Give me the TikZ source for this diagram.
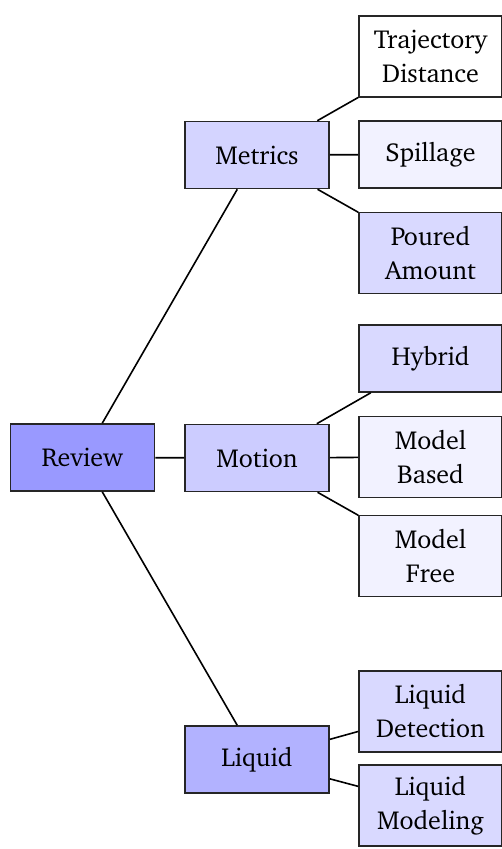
\documentclass[tikz,border=0pt]{standalone}
\usepackage[T1]{fontenc}
\usepackage{charter}
\begin{document}
\begin{tikzpicture}[x=1pt,y=-1pt,
  box/.style={draw=black!85,line width=1.6pt,minimum width=143pt,minimum height=67pt,
    align=center,inner sep=3pt,font=\fontsize{26}{34}\selectfont},
  tall/.style={box,minimum height=81pt},
  link/.style={line width=1.6pt,black}]
\useasboundingbox (0,0) rectangle (502,849);
% root
\node[box,fill=blue!40,minimum width=144pt] (review) at (82.5,457.5) {Review};
% second level
\node[box,fill=blue!17,minimum width=144pt] (metrics) at (257,155) {Metrics};
\node[box,fill=blue!20,minimum width=144pt] (motion) at (257,458) {Motion};
\node[box,fill=blue!30,minimum width=144pt] (liquid) at (257,759.5) {Liquid};
% leaves
\node[tall,fill=white] (traj) at (430.5,56.5) {Trajectory\\Distance};
\node[box,fill=blue!5] (spill) at (430.5,154.5) {Spillage};
\node[tall,fill=blue!15] (poured) at (430.5,253) {Poured\\Amount};
\node[box,fill=blue!15] (hybrid) at (430.5,358.5) {Hybrid};
\node[tall,fill=blue!5] (mbased) at (430.5,457) {Model\\Based};
\node[tall,fill=blue!5] (mfree) at (430.5,556) {Model\\Free};
\node[tall,fill=blue!15] (ldet) at (430.5,711.5) {Liquid\\Detection};
\node[tall,fill=blue!15] (lmod) at (430.5,805.5) {Liquid\\Modeling};
% connectors
\draw[link] (review) -- (metrics);
\draw[link] (review) -- (motion);
\draw[link] (review) -- (liquid);
\draw[link] (metrics) -- (traj);
\draw[link] (metrics) -- (spill);
\draw[link] (metrics) -- (poured);
\draw[link] (motion) -- (hybrid);
\draw[link] (motion) -- (mbased);
\draw[link] (motion) -- (mfree);
\draw[link] (liquid) -- (ldet);
\draw[link] (liquid) -- (lmod);
\end{tikzpicture}
\end{document}
